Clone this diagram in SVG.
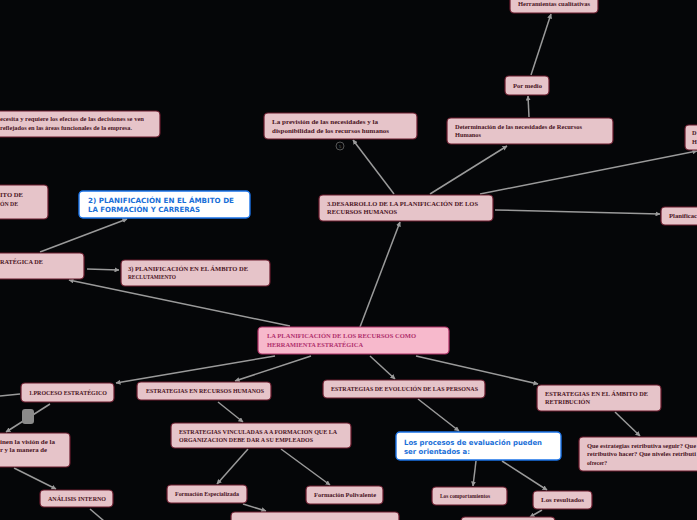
<svg xmlns="http://www.w3.org/2000/svg" width="697" height="520" viewBox="0 0 697 520">
<style>
.n rect{fill:#e6c4c9;stroke:#6a1a2c;stroke-width:1.2}
.n text{font-family:"Liberation Serif",serif;font-weight:bold;font-size:6.3px;fill:#4a1424}
.n text.m{text-anchor:middle}
.b rect{fill:#ffffff;stroke:#1a73e8;stroke-width:1.4}
.b text{font-family:"DejaVu Sans",sans-serif;font-weight:bold;font-size:7.1px;fill:#1a6fd8}
.c rect{fill:#f7b9cc;stroke:#b03066;stroke-width:1.2}
.c text{font-family:"Liberation Serif",serif;font-weight:bold;font-size:6.3px;fill:#b0306c}
text{lengthAdjust:spacingAndGlyphs}
#edges line{stroke:#9a9a9a;stroke-width:1.5;marker-end:url(#ah)}
#edges line.na{marker-end:none}
</style>
<defs>
<marker id="ah" viewBox="0 0 10 10" refX="9" refY="5" markerWidth="5" markerHeight="5" orient="auto" markerUnits="userSpaceOnUse">
<path d="M0,0 L10,5 L0,10 z" fill="#9a9a9a"/>
</marker>
</defs>
<rect x="0" y="0" width="697" height="520" fill="#050608"/>
<g id="edges">
<line x1="290" y1="326" x2="69" y2="280"/>
<line x1="40" y1="252" x2="127" y2="219"/>
<line x1="87" y1="269" x2="119" y2="270"/>
<line x1="360" y1="327" x2="400" y2="222"/>
<line x1="394" y1="194" x2="353" y2="140"/>
<line x1="430" y1="194" x2="507" y2="146"/>
<line x1="529" y1="117" x2="528" y2="96"/>
<line x1="531" y1="75" x2="551" y2="14"/>
<line x1="480" y1="194" x2="697" y2="151"/>
<line x1="495" y1="210" x2="660" y2="214"/>
<line x1="275" y1="356" x2="116" y2="383"/>
<line x1="311" y1="356" x2="235" y2="381"/>
<line x1="370" y1="356" x2="395" y2="379"/>
<line x1="416" y1="356" x2="538" y2="384"/>
<line class="na" x1="0" y1="396" x2="20" y2="394"/>
<line x1="50" y1="404" x2="6" y2="432"/>
<line x1="14" y1="468" x2="56" y2="489"/>
<line class="na" x1="90" y1="509" x2="104" y2="521"/>
<line x1="218" y1="402" x2="243" y2="422"/>
<line x1="248" y1="449" x2="217" y2="484"/>
<line x1="281" y1="449" x2="330" y2="485"/>
<line x1="243" y1="504" x2="266" y2="511"/>
<line x1="418" y1="399" x2="459" y2="431"/>
<line x1="476" y1="461" x2="473" y2="486"/>
<line x1="502" y1="461" x2="547" y2="490"/>
<line x1="542" y1="510" x2="530" y2="517"/>
<line x1="615" y1="412" x2="640" y2="436"/>
</g>
<g id="n1" class="n"><rect x="-10" y="111" width="170" height="26" rx="4"/><text x="0" y="121" textLength="144" lengthAdjust="spacingAndGlyphs">ecesita y requiere los efectos de las decisiones se ven</text><text x="0" y="130" textLength="132" lengthAdjust="spacingAndGlyphs">reflejados en las áreas funcionales de la empresa.</text></g>
<g id="n2" class="n"><rect x="-10" y="185" width="58" height="34" rx="4"/><text x="0" y="197" textLength="23" lengthAdjust="spacingAndGlyphs">ITO DE</text><text x="0" y="206" textLength="18" lengthAdjust="spacingAndGlyphs">ÓN DE</text></g>
<g id="n3" class="b"><rect x="79" y="191" width="171" height="27" rx="4"/><text x="88" y="203" textLength="146" lengthAdjust="spacingAndGlyphs">2) PLANIFICACIÓN EN EL ÁMBITO DE</text><text x="88" y="212" textLength="112" lengthAdjust="spacingAndGlyphs">LA FORMACIÓN Y CARRERAS</text></g>
<g id="n4" class="n"><rect x="-10" y="253" width="94" height="26" rx="4"/><text x="0" y="264" textLength="43" lengthAdjust="spacingAndGlyphs">RATÉGICA DE</text></g>
<g id="n5" class="n"><rect x="121" y="260" width="149" height="26" rx="4"/><text x="128" y="271" textLength="120" lengthAdjust="spacingAndGlyphs">3) PLANIFICACIÓN EN EL ÁMBITO DE</text><text x="128" y="279" textLength="48" lengthAdjust="spacingAndGlyphs">RECLUTAMIENTO</text></g>
<g id="n6" class="n"><rect x="264" y="113" width="153" height="26" rx="4"/><text x="272" y="124" textLength="106" lengthAdjust="spacingAndGlyphs">La previsión de las necesidades y la</text><text x="272" y="133" textLength="117" lengthAdjust="spacingAndGlyphs">disponibilidad de los recursos humanos</text></g>
<g id="n6b"><circle cx="340" cy="146" r="4" fill="none" stroke="#555" stroke-width="1"/><text x="340" y="148" text-anchor="middle" font-family="Liberation Sans,sans-serif" font-size="4" fill="#666">5</text></g>
<g id="n7" class="n"><rect x="319" y="195" width="174" height="26" rx="4"/><text x="327" y="206" textLength="151" lengthAdjust="spacingAndGlyphs">3.DESARROLLO DE LA PLANIFICACIÓN DE LOS</text><text x="327" y="214" textLength="70" lengthAdjust="spacingAndGlyphs">RECURSOS HUMANOS</text></g>
<g id="n8" class="n"><rect x="447" y="118" width="166" height="26" rx="4"/><text x="455" y="129" textLength="127" lengthAdjust="spacingAndGlyphs">Determinación de las necesidades de Recursos</text><text x="455" y="137" textLength="26" lengthAdjust="spacingAndGlyphs">Humanos</text></g>
<g id="n9" class="n"><rect x="505" y="76" width="44" height="19" rx="4"/><text x="513" y="88" textLength="29" lengthAdjust="spacingAndGlyphs">Por medio</text></g>
<g id="n10" class="n"><rect x="510" y="-5" width="88" height="18" rx="4"/><text x="518" y="6" textLength="72" lengthAdjust="spacingAndGlyphs">Herramientas cualitativas</text></g>
<g id="n11" class="n"><rect x="685" y="125" width="30" height="25" rx="4"/><text x="692" y="135">D</text><text x="692" y="144">H</text></g>
<g id="n12" class="n"><rect x="661" y="207" width="50" height="18" rx="4"/><text x="669" y="218" textLength="28" lengthAdjust="spacingAndGlyphs">Planificac</text></g>
<g id="n13" class="c"><rect x="258" y="327" width="191" height="27" rx="4"/><text x="267" y="338" textLength="149" lengthAdjust="spacingAndGlyphs">LA PLANIFICACIÓN DE LOS RECURSOS COMO</text><text x="267" y="347" textLength="96" lengthAdjust="spacingAndGlyphs">HERRAMIENTA ESTRATÉGICA</text></g>
<g id="n14" class="n"><rect x="21" y="383" width="93" height="19" rx="4"/><text x="29" y="395" textLength="78" lengthAdjust="spacingAndGlyphs">1.PROCESO ESTRATÉGICO</text></g>
<g id="n15"><rect x="22" y="409" width="12" height="15" rx="3" fill="#8a8a8a"/></g>
<g id="n16" class="n"><rect x="-10" y="433" width="80" height="34" rx="4"/><text x="0" y="444" textLength="55" lengthAdjust="spacingAndGlyphs">inen la visión de la</text><text x="0" y="452" textLength="47" lengthAdjust="spacingAndGlyphs">r y la manera de</text></g>
<g id="n17" class="n"><rect x="40" y="490" width="73" height="17" rx="4"/><text x="48" y="501" textLength="58" lengthAdjust="spacingAndGlyphs">ANÁLISIS INTERNO</text></g>
<g id="n18" class="n"><rect x="137" y="382" width="134" height="18" rx="4"/><text x="146" y="393" textLength="118" lengthAdjust="spacingAndGlyphs">ESTRATEGIAS EN RECURSOS HUMANOS</text></g>
<g id="n19" class="n"><rect x="171" y="423" width="180" height="25" rx="4"/><text x="179" y="434" textLength="158" lengthAdjust="spacingAndGlyphs">ESTRATEGIAS VINCULADAS A A FORMACION QUE LA</text><text x="179" y="442" textLength="134" lengthAdjust="spacingAndGlyphs">ORGANIZACION DEBE DAR A SU EMPLEADOS</text></g>
<g id="n20" class="n"><rect x="167" y="485" width="80" height="18" rx="4"/><text x="175" y="496" textLength="64" lengthAdjust="spacingAndGlyphs">Formación Especializada</text></g>
<g id="n21" class="n"><rect x="306" y="486" width="77" height="18" rx="4"/><text x="314" y="497" textLength="62" lengthAdjust="spacingAndGlyphs">Formación Polivalente</text></g>
<g id="n22" class="n"><rect x="231" y="512" width="168" height="20" rx="4"/></g>
<g id="n23" class="n"><rect x="323" y="380" width="162" height="18" rx="4"/><text x="331" y="391" textLength="147" lengthAdjust="spacingAndGlyphs">ESTRATEGIAS DE EVOLUCIÓN DE LAS PERSONAS</text></g>
<g id="n24" class="b"><rect x="396" y="432" width="165" height="28" rx="4"/><text x="404" y="445" textLength="138" lengthAdjust="spacingAndGlyphs">Los procesos de evaluación pueden</text><text x="404" y="454" textLength="66" lengthAdjust="spacingAndGlyphs">ser orientados a:</text></g>
<g id="n25" class="n"><rect x="432" y="487" width="75" height="18" rx="4"/><text x="440" y="498" textLength="50" lengthAdjust="spacingAndGlyphs">Los comportamientos</text></g>
<g id="n26" class="n"><rect x="533" y="491" width="59" height="18" rx="4"/><text x="541" y="502" textLength="43" lengthAdjust="spacingAndGlyphs">Los resultados</text></g>
<g id="n27" class="n"><rect x="461" y="517" width="94" height="15" rx="4"/></g>
<g id="n28" class="n"><rect x="537" y="385" width="124" height="26" rx="4"/><text x="545" y="396" textLength="103" lengthAdjust="spacingAndGlyphs">ESTRATEGIAS EN EL ÁMBITO DE</text><text x="545" y="404" textLength="45" lengthAdjust="spacingAndGlyphs">RETRIBUCIÓN</text></g>
<g id="n29" class="n"><rect x="579" y="437" width="130" height="34" rx="4"/><text x="587" y="448" textLength="109" lengthAdjust="spacingAndGlyphs">Que estrategias retributiva seguir? Que</text><text x="587" y="456" textLength="109" lengthAdjust="spacingAndGlyphs">retributivo hacer? Que niveles retributi</text><text x="587" y="465" textLength="20" lengthAdjust="spacingAndGlyphs">ofrecer?</text></g>
</svg>
